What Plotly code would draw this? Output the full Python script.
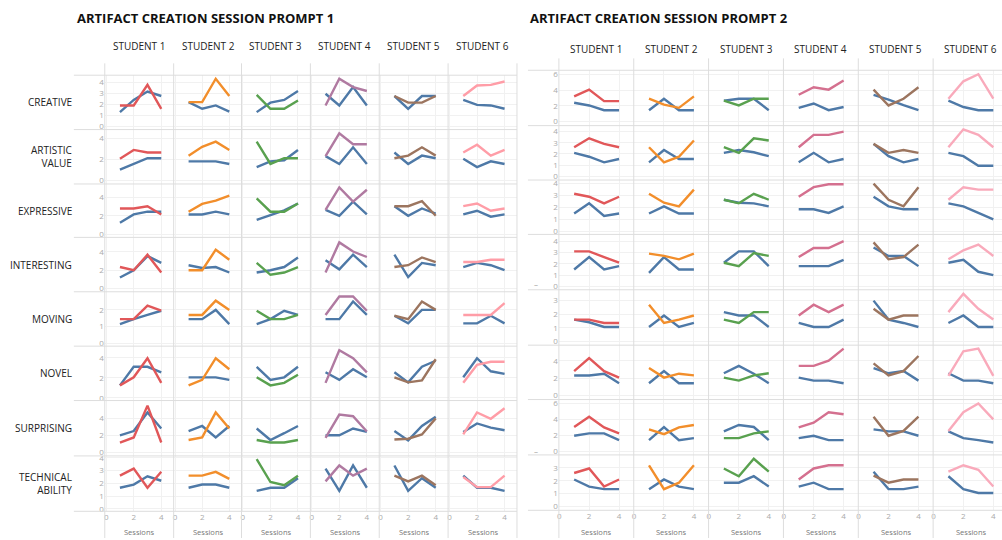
import plotly.graph_objects as go

W, H = 1002, 540

students = ["STUDENT 1", "STUDENT 2", "STUDENT 3", "STUDENT 4", "STUDENT 5", "STUDENT 6"]
attributes = ["CREATIVE", "ARTISTIC<br>VALUE", "EXPRESSIVE", "INTERESTING",
              "MOVING", "NOVEL", "SURPRISING", "TECHNICAL<br>ABILITY"]
sessions = [1, 2, 3, 4]
titles = ["ARTIFACT CREATION SESSION PROMPT 1", "ARTIFACT CREATION SESSION PROMPT 2"]

# ---------------- Prompt 1 : student's own line (coloured) and blue line ----------------
p1_creative = [[1.9, 1.9, 3.75, 1.6], [2.2, 2.2, 4.3, 2.75], [2.85, 1.6, 1.6, 2.35],
               [1.9, 4.3, 3.55, 3.2], [2.75, 2.15, 2.15, 2.75], [2.75, 3.7, 3.75, 4.05]]
p1_creative_blue = [[1.3, 2.4, 3.15, 2.75], [2.2, 1.6, 1.9, 1.35], [1.3, 2.15, 2.4, 3.2],
                    [2.95, 1.9, 3.55, 1.9], [2.75, 1.6, 2.75, 2.75], [2.4, 1.95, 1.9, 1.6]]
p1_artistic = [[2.05, 2.9, 2.65, 2.65], [2.35, 3.2, 3.7, 2.9], [3.7, 1.55, 2.1, 2.1],
               [2.3, 4.5, 3.45, 3.45], [2.1, 2.35, 3.15, 2.35], [2.65, 3.4, 2.35, 2.9]]
p1_artistic_blue = [[1.0, 1.55, 2.1, 2.1], [1.8, 1.8, 1.8, 1.55], [1.25, 1.8, 1.9, 2.9],
                    [2.3, 1.55, 3.15, 1.55], [2.65, 1.55, 2.35, 2.1], [2.05, 1.25, 1.8, 1.55]]
p1_expressive = [[2.8, 2.8, 3.05, 2.15], [2.45, 3.3, 3.65, 4.2], [3.9, 2.45, 2.45, 3.35],
                 [2.65, 5.1, 3.55, 4.85], [3.05, 3.05, 3.6, 2.0], [3.05, 3.35, 2.55, 2.8]]
p1_expressive_blue = [[1.25, 2.15, 2.45, 2.45], [2.15, 2.15, 2.45, 2.15], [1.55, 2.1, 2.6, 3.35],
                      [2.65, 2.0, 3.55, 2.15], [3.05, 2.0, 2.8, 2.25], [2.15, 2.55, 1.9, 2.15]]
p1_interesting = [[2.35, 2.0, 3.7, 1.75], [2.0, 2.0, 4.25, 3.15], [2.8, 1.5, 1.75, 2.35],
                  [1.75, 5.05, 4.05, 3.45], [2.35, 2.55, 3.4, 2.9], [2.9, 2.9, 3.15, 3.15]]
p1_interesting_blue = [[1.2, 2.0, 3.55, 2.8], [2.55, 2.25, 2.35, 1.75], [1.75, 2.0, 2.35, 3.4],
                       [3.1, 2.1, 3.7, 2.35], [3.7, 1.25, 2.8, 2.55], [2.35, 2.8, 2.55, 2.0]]
p1_moving = [[1.45, 1.45, 2.25, 1.95], [1.7, 1.7, 2.55, 2.0], [1.95, 1.45, 1.45, 1.7],
             [1.7, 2.8, 2.8, 1.95], [1.65, 1.45, 2.5, 2.0], [1.7, 1.7, 1.7, 2.4]]
p1_moving_blue = [[1.15, 1.45, 1.7, 1.95], [1.45, 1.45, 2.0, 1.15], [1.15, 1.45, 1.95, 1.7],
                  [1.45, 1.45, 2.5, 1.7], [1.65, 1.2, 2.0, 2.0], [1.2, 1.2, 1.65, 1.2]]
p1_novel = [[1.25, 2.05, 3.95, 1.5], [1.25, 1.8, 3.95, 2.85], [2.05, 1.25, 1.5, 2.3],
            [1.5, 4.75, 3.95, 2.55], [2.05, 1.55, 1.75, 3.85], [1.5, 3.3, 3.6, 3.6]]
p1_novel_blue = [[1.25, 3.1, 3.1, 2.55], [2.05, 2.05, 2.05, 1.8], [3.1, 1.8, 2.05, 3.1],
                 [2.55, 1.8, 2.85, 2.05], [2.55, 1.55, 3.1, 3.7], [2.05, 3.95, 2.65, 2.4]]
p1_surprising = [[1.15, 1.75, 5.5, 1.15], [1.45, 1.75, 4.7, 2.8], [1.45, 1.15, 1.15, 1.45],
                 [1.7, 4.45, 4.25, 2.45], [1.5, 1.6, 2.1, 4.0], [2.1, 4.7, 3.95, 5.2]]
p1_surprising_blue = [[2.0, 2.5, 4.7, 2.8], [2.5, 3.1, 1.75, 3.1], [2.8, 1.45, 2.25, 3.1],
                      [2.0, 2.0, 2.8, 2.4], [2.5, 1.4, 3.1, 4.2], [2.4, 3.4, 2.9, 2.6]]
p1_technical = [[2.6, 3.15, 1.65, 2.9], [2.6, 2.6, 2.9, 2.35], [3.9, 2.1, 1.85, 2.6],
                [2.15, 3.4, 2.6, 3.15], [2.6, 2.15, 2.6, 1.85], [2.5, 1.7, 1.7, 2.6]]
p1_technical_blue = [[1.65, 1.9, 2.55, 2.2], [1.65, 1.9, 1.9, 1.65], [1.4, 1.65, 1.65, 2.4],
                     [3.15, 1.4, 3.4, 1.65], [3.4, 1.4, 2.4, 1.65], [2.6, 1.65, 1.65, 1.4]]

# ---------------- Prompt 2 ----------------
p2_creative = [[3.2, 4.05, 2.6, 2.6], [2.9, 2.15, 1.75, 3.2], [2.65, 2.05, 2.9, 2.9],
               [3.4, 4.35, 4.05, 5.2], [4.05, 2.05, 2.9, 4.35], [2.9, 5.1, 6.0, 2.9]]
p2_creative_blue = [[2.4, 2.05, 1.45, 1.45], [1.45, 2.9, 1.45, 1.45], [2.65, 2.9, 2.9, 1.45],
                    [1.75, 2.3, 1.45, 1.85], [3.4, 2.8, 2.1, 1.45], [2.65, 1.85, 1.45, 1.45]]
p2_artistic = [[2.6, 3.4, 2.9, 2.6], [2.6, 1.25, 1.75, 3.2], [2.6, 2.1, 3.4, 3.2],
               [2.6, 3.7, 3.7, 4.0], [2.9, 2.1, 2.35, 2.1], [2.6, 4.2, 3.7, 2.6]]
p2_artistic_blue = [[2.1, 1.75, 1.25, 1.55], [1.25, 2.35, 1.55, 1.55], [2.1, 2.35, 2.15, 1.8],
                    [1.25, 2.1, 1.25, 1.55], [2.9, 1.8, 1.25, 1.55], [2.1, 1.8, 0.95, 0.95]]
p2_expressive = [[3.15, 2.9, 2.35, 2.9], [3.15, 2.4, 2.1, 3.5], [2.65, 2.35, 3.15, 2.65],
                 [2.9, 3.7, 3.95, 3.95], [4.0, 2.65, 2.1, 3.7], [2.65, 3.7, 3.5, 3.5]]
p2_expressive_blue = [[1.5, 2.35, 1.3, 1.5], [1.5, 2.1, 1.5, 1.5], [2.65, 2.4, 2.35, 2.1],
                      [1.85, 1.85, 1.55, 2.1], [2.9, 2.1, 1.85, 1.85], [2.35, 2.1, 1.55, 1.0]]
p2_interesting = [[3.1, 3.1, 2.6, 2.1], [2.9, 2.7, 2.4, 2.9], [2.1, 1.8, 2.95, 2.7],
                  [2.6, 3.4, 3.4, 4.0], [3.9, 2.4, 2.6, 3.7], [2.4, 3.2, 3.7, 2.7]]
p2_interesting_blue = [[1.5, 2.6, 1.5, 1.8], [1.2, 2.6, 1.5, 1.5], [2.1, 3.1, 3.1, 1.8],
                       [1.8, 1.8, 1.8, 2.35], [3.45, 2.7, 2.7, 1.8], [2.1, 2.35, 1.3, 1.0]]
p2_moving = [[1.6, 1.6, 1.35, 1.35], [2.7, 1.35, 1.6, 1.9], [1.6, 1.35, 2.15, 2.15],
             [1.9, 2.7, 2.15, 2.7], [2.4, 1.6, 1.9, 1.9], [2.15, 3.5, 2.4, 1.6]]
p2_moving_blue = [[1.6, 1.4, 1.05, 1.05], [1.05, 1.9, 1.05, 1.35], [2.15, 1.9, 1.9, 1.05],
                  [1.35, 1.05, 1.05, 1.6], [3.0, 1.6, 1.35, 1.05], [1.35, 1.9, 1.05, 1.05]]
p2_novel = [[2.8, 4.3, 2.8, 2.05], [3.15, 2.05, 2.5, 2.3], [2.05, 1.7, 2.3, 2.55],
            [3.4, 3.4, 4.0, 5.4], [3.7, 2.3, 2.8, 4.55], [2.25, 5.1, 5.4, 2.25]]
p2_novel_blue = [[2.3, 2.3, 2.5, 1.4], [1.4, 2.8, 1.4, 1.4], [2.55, 3.4, 2.5, 1.4],
                 [2.05, 1.7, 1.7, 1.4], [3.15, 2.55, 2.8, 1.7], [2.55, 1.7, 1.7, 1.4]]
p2_surprising = [[3.05, 4.35, 3.0, 2.25], [2.75, 2.15, 3.0, 3.3], [1.65, 1.65, 2.25, 2.5],
                 [3.0, 3.6, 4.9, 4.65], [4.35, 1.95, 2.55, 4.35], [2.55, 4.9, 6.0, 4.0]]
p2_surprising_blue = [[1.95, 2.25, 2.25, 1.4], [1.4, 3.05, 1.4, 1.65], [2.5, 3.3, 3.05, 1.4],
                      [1.65, 1.95, 1.4, 1.4], [2.75, 2.5, 2.5, 1.95], [2.5, 1.65, 1.4, 1.1]]
p2_technical = [[2.6, 2.95, 1.55, 2.1], [3.2, 1.35, 1.85, 3.2], [2.95, 2.35, 3.7, 2.7],
                [2.1, 2.95, 3.2, 3.2], [2.4, 1.85, 2.1, 2.1], [2.7, 3.2, 2.85, 1.55]]
p2_technical_blue = [[2.1, 1.55, 1.35, 1.35], [1.35, 2.1, 1.55, 1.35], [1.85, 1.85, 2.35, 1.55],
                     [1.55, 1.85, 1.35, 1.35], [2.7, 1.35, 1.35, 1.55], [2.35, 1.35, 1.05, 1.05]]

p1_student = [p1_creative, p1_artistic, p1_expressive, p1_interesting,
              p1_moving, p1_novel, p1_surprising, p1_technical]
p1_blue = [p1_creative_blue, p1_artistic_blue, p1_expressive_blue, p1_interesting_blue,
           p1_moving_blue, p1_novel_blue, p1_surprising_blue, p1_technical_blue]
p2_student = [p2_creative, p2_artistic, p2_expressive, p2_interesting,
              p2_moving, p2_novel, p2_surprising, p2_technical]
p2_blue = [p2_creative_blue, p2_artistic_blue, p2_expressive_blue, p2_interesting_blue,
           p2_moving_blue, p2_novel_blue, p2_surprising_blue, p2_technical_blue]

# ---------------- styling / layout (pixels) ----------------
BLUE = "#4e79a7"
p1_colors = ["#e15759", "#f28e2b", "#59a14f", "#b07aa1", "#9c755f", "#ff9da7"]
p2_colors = ["#e15759", "#f28e2b", "#59a14f", "#d4708f", "#9c755f", "#f9aabb"]

panels = [
    dict(student=p1_student, blue=p1_blue, colors=p1_colors,
         cols=[103, 172, 240, 309, 378, 447, 516],
         rows=[72, 127, 182, 236, 291, 346, 401, 457, 513],
         xr=[[-0.1, 4.9]] * 6,
         yr=[[-0.27, 4.62], [-0.38, 4.86], [-0.36, 5.48], [-0.36, 5.6],
             [-0.16, 3.08], [-0.26, 5.15], [-0.43, 6.1], [-0.2, 4.15]],
         yt=[[0, 1, 2, 3, 4], [0, 2, 4], [0, 2, 4], [0, 2, 4], [0, 1, 2],
             [0, 2, 4], [0, 2, 4], [0, 1, 2, 3, 4]],
         hline_x0=72, vline_y0=60, title_x=73, head_y=42, colw=69),
    dict(student=p2_student, blue=p2_blue, colors=p2_colors,
         cols=[558, 633, 708, 783, 858, 933, 1002],
         rows=[67, 123, 178, 233, 289, 345, 400, 456, 512],
         xr=[[-0.02, 4.98]] * 5 + [[-0.02, 4.58]],
         yr=[[-0.5, 6.5], [-0.33, 4.53], [-0.25, 4.3], [-0.29, 4.6],
             [-0.29, 3.8], [-0.49, 5.8], [-0.46, 6.5], [-0.29, 4.0]],
         yt=[[0, 2, 4, 6], [0, 1, 2, 3, 4], [0, 1, 2, 3, 4], [0, 1, 2, 3, 4],
             [0, 1, 2, 3], [0, 2, 4], [0, 2, 4, 6], [0, 1, 2, 3]],
         hline_x0=527, vline_y0=55, title_x=527, head_y=45, colw=75),
]

FONT = "Open Sans"
fig = go.Figure()
layout = {}
shapes = []
annotations = []


def px_x(v):
    return v / W


def px_y(v):
    return 1 - v / H


k = 0
for pi, P in enumerate(panels):
    cols, rows = P["cols"], P["rows"]
    for r in range(8):
        for c in range(6):
            k += 1
            xa = "x" if k == 1 else f"x{k}"
            ya = "y" if k == 1 else f"y{k}"
            fig.add_trace(go.Scatter(x=sessions, y=P["blue"][r][c], mode="lines",
                                     line=dict(color=BLUE, width=2.4),
                                     xaxis=xa, yaxis=ya, showlegend=False, hoverinfo="skip"))
            fig.add_trace(go.Scatter(x=sessions, y=P["student"][r][c], mode="lines",
                                     line=dict(color=P["colors"][c], width=2.4),
                                     xaxis=xa, yaxis=ya, showlegend=False, hoverinfo="skip"))
            xkey = "xaxis" if k == 1 else f"xaxis{k}"
            ykey = "yaxis" if k == 1 else f"yaxis{k}"
            layout[xkey] = dict(
                domain=[px_x(cols[c]), px_x(cols[c + 1])], range=P["xr"][c],
                anchor=ya, tickvals=[0, 2, 4], showgrid=True, gridcolor="#f1f1f1",
                zeroline=False, showline=False, ticks="", color="#aaaaaa",
                showticklabels=(r == 7), fixedrange=True,
                tickfont=dict(size=8, color="#aaaaaa", family=FONT))
            layout[ykey] = dict(
                domain=[px_y(rows[r + 1]), px_y(rows[r])], range=P["yr"][r],
                anchor=xa, tickvals=P["yt"][r], showgrid=True, gridcolor="#f1f1f1",
                zeroline=False, showline=False, ticks="", color="#aaaaaa",
                showticklabels=(c == 0), fixedrange=True,
                tickfont=dict(size=8, color="#aaaaaa", family=FONT))

    # separators
    for yv in rows:
        shapes.append(dict(type="line", xref="paper", yref="paper",
                           x0=px_x(P["hline_x0"]), x1=px_x(cols[-1]),
                           y0=px_y(yv), y1=px_y(yv),
                           line=dict(color="#dddddd", width=1)))
    for xv in cols[:-1] + ([cols[-1]] if pi == 0 else []):
        shapes.append(dict(type="line", xref="paper", yref="paper",
                           x0=px_x(xv), x1=px_x(xv),
                           y0=px_y(P["vline_y0"]), y1=0,
                           line=dict(color="#dddddd", width=1)))

    # title
    annotations.append(dict(text=f"<b>{titles[pi]}</b>", xref="paper", yref="paper",
                            x=px_x(P["title_x"]), y=px_y(14), xanchor="left", yanchor="middle",
                            showarrow=False, font=dict(size=13, color="#111111", family=FONT)))
    # column headers and "Sessions"
    for c in range(6):
        cx = cols[c] + P["colw"] / 2
        annotations.append(dict(text=students[c], xref="paper", yref="paper",
                                x=px_x(cx), y=px_y(P["head_y"]), xanchor="center", yanchor="middle",
                                showarrow=False, font=dict(size=10, color="#222222", family=FONT)))
        annotations.append(dict(text="Sessions", xref="paper", yref="paper",
                                x=px_x(cx), y=px_y(534), xanchor="center", yanchor="middle",
                                showarrow=False, font=dict(size=7.5, color="#777777", family=FONT)))
    # row labels (prompt 1 only)
    if pi == 0:
        for r in range(8):
            cy = (rows[r] + rows[r + 1]) / 2
            annotations.append(dict(text=attributes[r], xref="paper", yref="paper",
                                    x=px_x(72), y=px_y(cy), xanchor="right", yanchor="middle",
                                    align="right", showarrow=False,
                                    font=dict(size=10, color="#222222", family=FONT)))
    else:
        # small stray axis-title dashes visible at the left of prompt 2
        for yv in (283, 452):
            annotations.append(dict(text="–", xref="paper", yref="paper",
                                    x=px_x(535), y=px_y(yv), xanchor="center", yanchor="middle",
                                    showarrow=False, font=dict(size=8, color="#999999", family=FONT)))

fig.update_layout(width=W, height=H, margin=dict(l=0, r=0, t=0, b=0),
                  paper_bgcolor="white", plot_bgcolor="white", dragmode=False,
                  shapes=shapes, annotations=annotations, showlegend=False,
                  font=dict(family=FONT), **layout)
fig.write_html("out.html", config={"displayModeBar": False, "staticPlot": True},
               post_script="document.body.style.margin='0';document.body.style.overflow='hidden';")
